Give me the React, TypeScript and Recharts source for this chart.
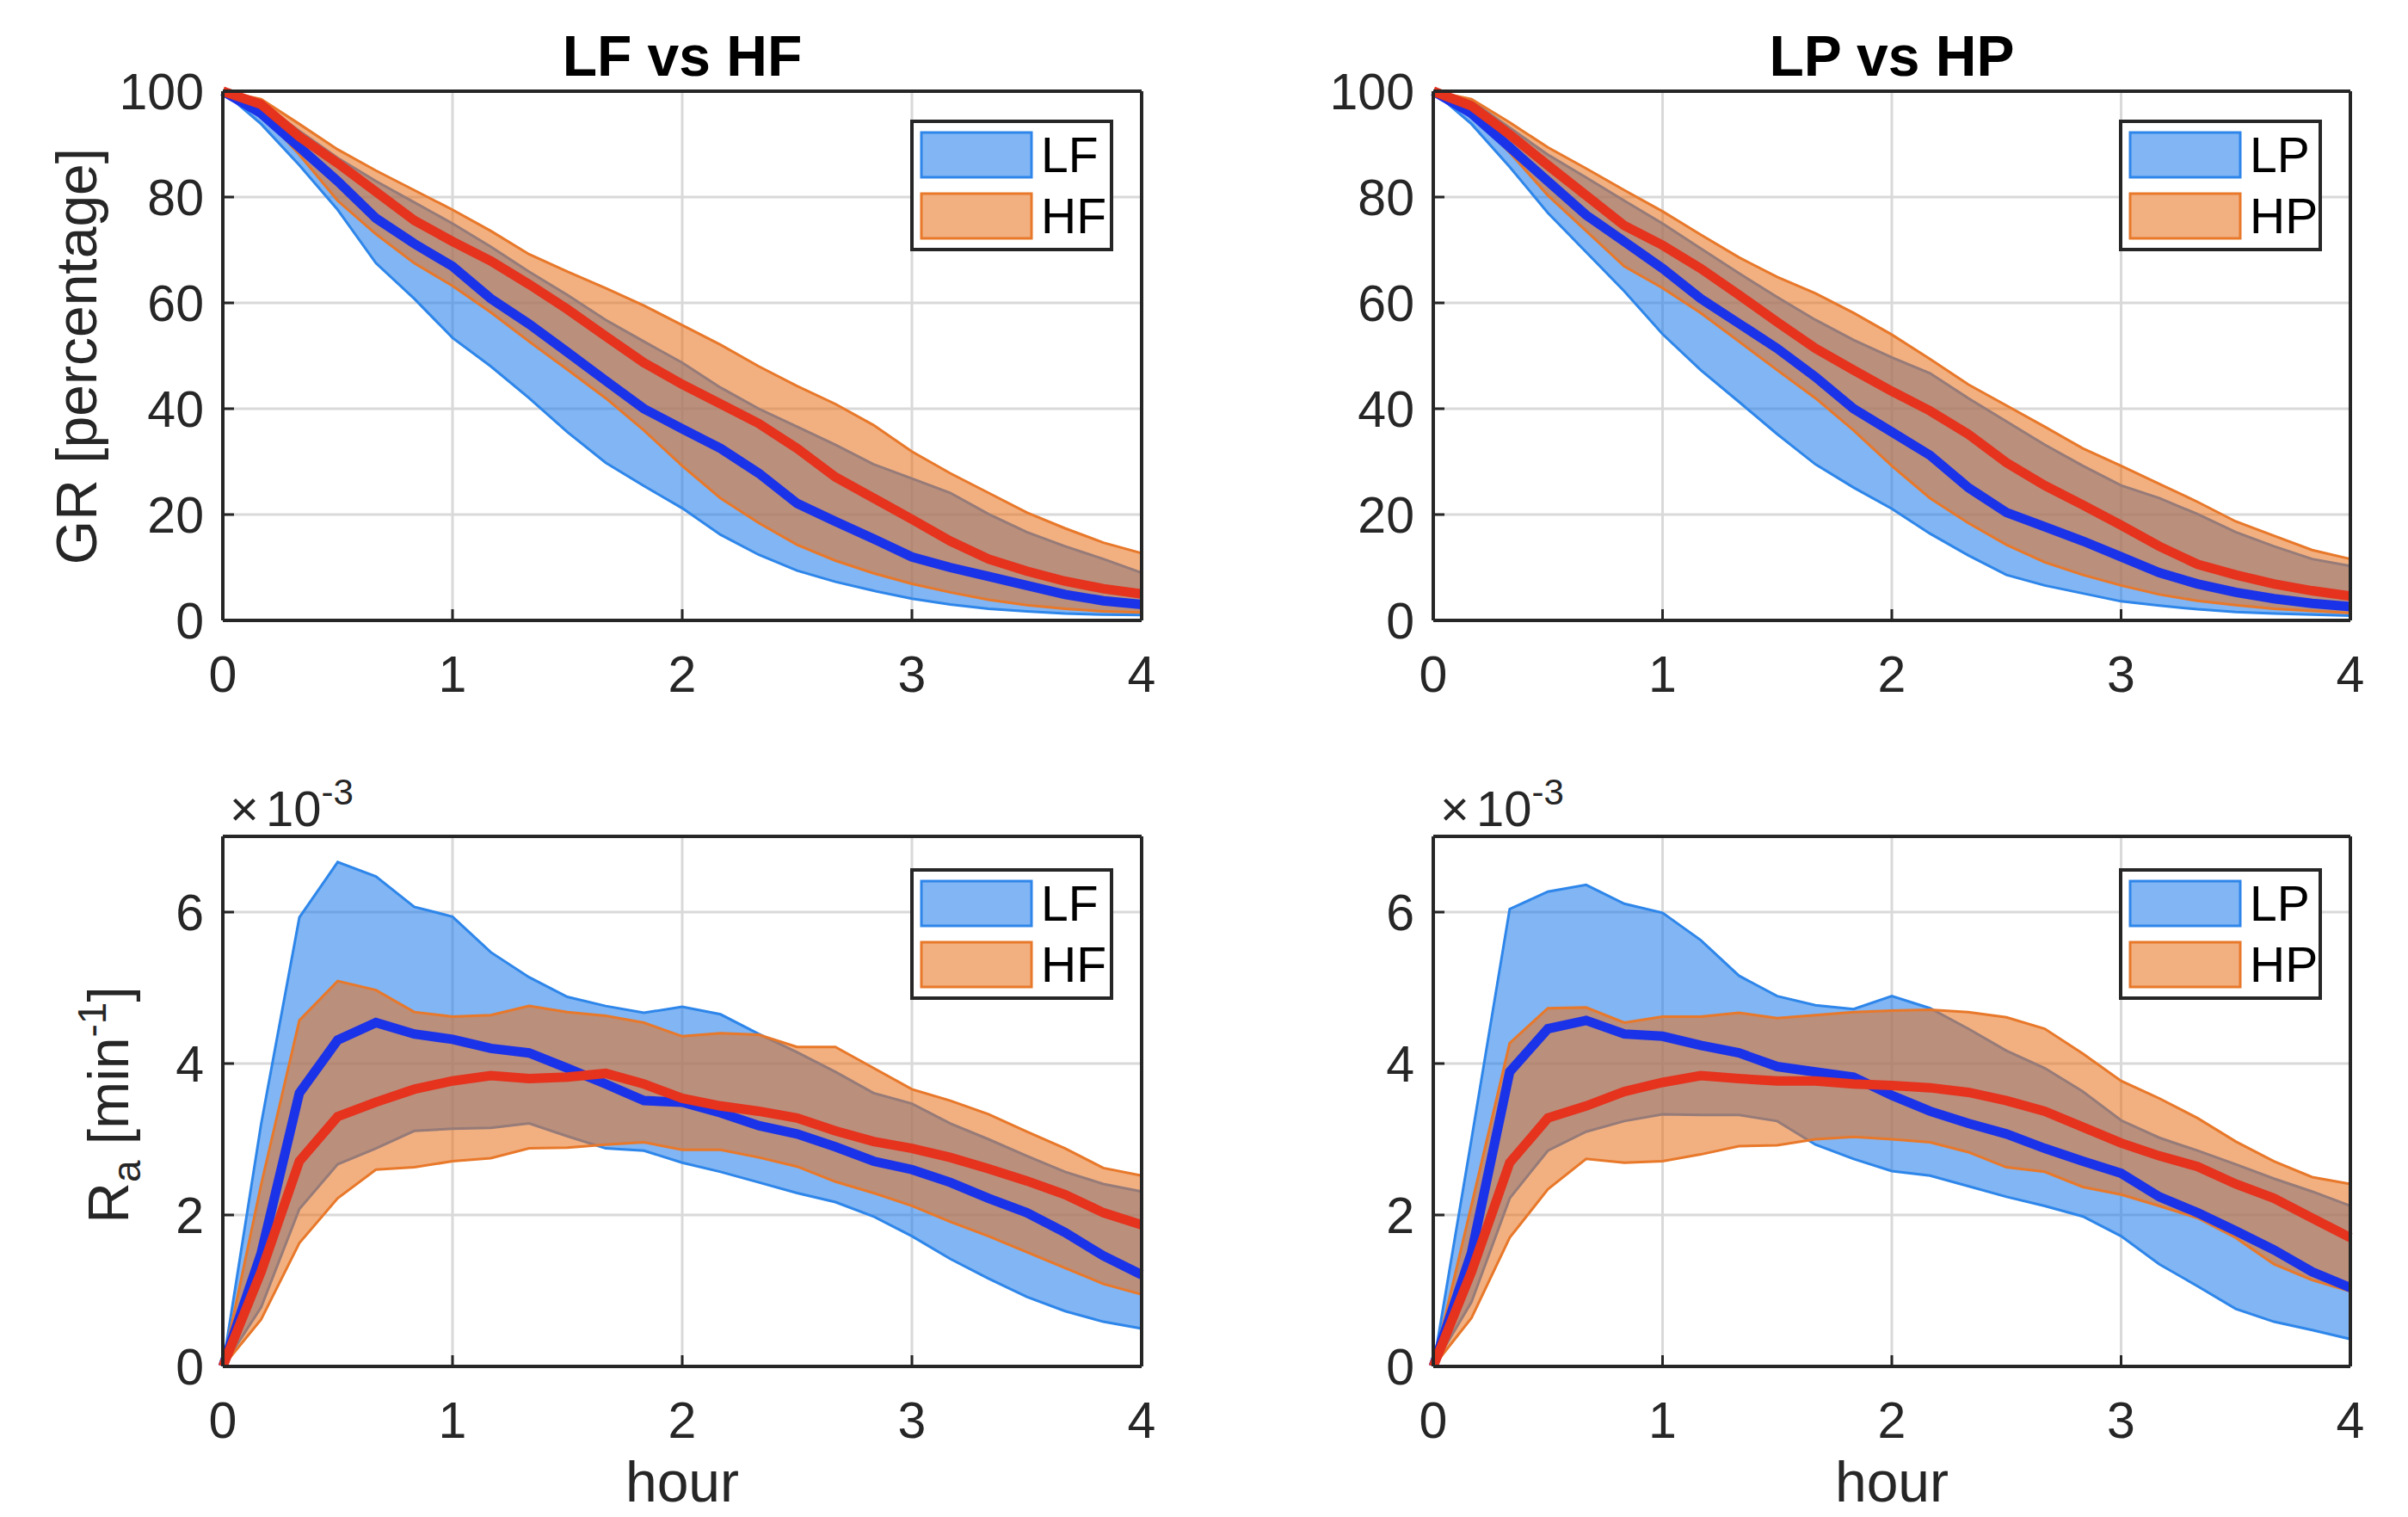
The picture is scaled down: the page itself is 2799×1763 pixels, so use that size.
import React from "react";
import { ComposedChart, Area, Line, XAxis, YAxis, CartesianGrid, Legend } from "recharts";

// hours, 10-minute steps
const HOURS = [0, 0.1667, 0.3333, 0.5, 0.6667, 0.8333, 1, 1.1667, 1.3333, 1.5, 1.6667, 1.8333, 2, 2.1667, 2.3333, 2.5, 2.6667, 2.8333, 3, 3.1667, 3.3333, 3.5, 3.6667, 3.8333, 4];
const X_TICKS = [0, 1, 2, 3, 4];
const GR_TICKS = [0, 20, 40, 60, 80, 100];
const RA_TICKS = [0, 2, 4, 6];

// GR [percentage], LF vs HF
const GR_LF_MEAN = [100, 95.8, 89.4, 83, 76, 71.2, 66.9, 60.8, 56, 50.7, 45.3, 40, 36.2, 32.5, 27.8, 22.1, 18.7, 15.4, 12, 10, 8.3, 6.6, 4.9, 3.7, 3];
const GR_LF_HI = [100, 97.8, 92.5, 87.4, 83, 79, 75, 70.6, 65.9, 61.5, 56.8, 52.7, 48.7, 44, 40, 36.6, 33.2, 29.5, 26.8, 24.1, 20.1, 16.7, 14, 11.6, 9];
const GR_LF_LO = [100, 93.8, 86, 77.6, 67.5, 60.8, 53.4, 48, 42, 35.6, 29.8, 25.4, 21.2, 16.2, 12.4, 9.4, 7.3, 5.6, 4.1, 3, 2.2, 1.7, 1.3, 1.1, 1];
const GR_HF_MEAN = [100, 97.5, 91.4, 86.4, 81, 75.6, 71.6, 67.9, 63.5, 58.8, 53.7, 48.7, 44.6, 40.9, 37.2, 32.5, 27.1, 23.1, 19.1, 15, 11.6, 9.3, 7.4, 6, 5];
const GR_HF_HI = [100, 98.5, 93.8, 89, 85, 81.3, 77.6, 73.6, 69.2, 65.9, 62.8, 59.5, 55.8, 52.1, 48, 44.3, 40.9, 36.9, 31.9, 27.8, 24.1, 20.4, 17.4, 14.7, 12.7];
const GR_HF_LO = [100, 95.8, 88, 79.3, 73, 67.5, 63.2, 58.2, 52.7, 47.4, 42, 35.9, 29.2, 23.1, 18.4, 14.3, 11.3, 8.9, 6.9, 5.3, 3.9, 2.9, 2.2, 1.7, 1.5];

// GR [percentage], LP vs HP
const GR_LP_MEAN = [100, 95.8, 89.4, 83, 76.6, 71.6, 66.5, 60.8, 56.1, 51.4, 46, 40, 35.6, 31.2, 25.1, 20.4, 17.7, 15, 12, 9, 6.9, 5.3, 4.1, 3.2, 2.6];
const GR_LP_HI = [100, 98.2, 93.1, 88, 83.7, 79.3, 75, 70.3, 65.6, 61.1, 56.8, 53, 49.7, 46.7, 42, 37.6, 33.2, 29.2, 25.5, 23.1, 20.1, 16.7, 14, 11.6, 10.3];
const GR_LP_LO = [100, 93.8, 85.7, 77, 69.6, 62.2, 54.1, 47.3, 41.3, 35.2, 29.5, 25.1, 21.1, 16.4, 12.3, 8.6, 6.6, 5.1, 3.6, 2.8, 2.1, 1.6, 1.3, 1.1, 0.9];
const GR_HP_MEAN = [100, 97.2, 91.8, 86, 80.3, 74.6, 70.9, 66.5, 61.5, 56.4, 51.4, 47.3, 43.3, 39.6, 35.2, 29.8, 25.5, 21.8, 18, 14, 10.6, 8.6, 6.9, 5.6, 4.6];
const GR_HP_HI = [100, 98.5, 94.1, 89.4, 85.4, 81.3, 77.3, 72.9, 68.6, 64.9, 61.8, 58.1, 54, 49.4, 44.6, 40.6, 36.6, 32.5, 29.2, 25.8, 22.4, 18.7, 16, 13.3, 11.6];
const GR_HP_LO = [100, 95.8, 88.4, 80.3, 73.6, 66.9, 62.8, 58.1, 52.7, 47.3, 42, 35.9, 29.2, 23.1, 18.4, 14.3, 11, 8.6, 6.6, 4.9, 3.7, 2.9, 2.2, 1.8, 1.4];

// Ra [min^-1] x 10^-3, LF vs HF
const RA_LF_MEAN = [0, 1.49, 3.61, 4.31, 4.54, 4.39, 4.32, 4.2, 4.14, 3.94, 3.73, 3.51, 3.49, 3.35, 3.18, 3.07, 2.9, 2.71, 2.6, 2.43, 2.22, 2.03, 1.77, 1.46, 1.21];
const RA_LF_HI = [0, 3.2, 5.93, 6.66, 6.47, 6.07, 5.94, 5.47, 5.14, 4.88, 4.76, 4.67, 4.75, 4.65, 4.39, 4.15, 3.89, 3.61, 3.47, 3.21, 3.0, 2.78, 2.57, 2.41, 2.31];
const RA_LF_LO = [0, 0.78, 2.08, 2.67, 2.88, 3.11, 3.14, 3.15, 3.21, 3.04, 2.88, 2.85, 2.69, 2.57, 2.43, 2.29, 2.17, 1.98, 1.72, 1.42, 1.16, 0.92, 0.73, 0.59, 0.5];
const RA_HF_MEAN = [0, 1.25, 2.71, 3.3, 3.49, 3.66, 3.77, 3.84, 3.8, 3.82, 3.87, 3.73, 3.54, 3.44, 3.37, 3.28, 3.11, 2.97, 2.88, 2.76, 2.61, 2.45, 2.27, 2.03, 1.87];
const RA_HF_HI = [0, 2.4, 4.57, 5.09, 4.97, 4.68, 4.62, 4.64, 4.76, 4.68, 4.63, 4.54, 4.36, 4.4, 4.38, 4.22, 4.22, 3.94, 3.66, 3.51, 3.33, 3.1, 2.88, 2.62, 2.52];
const RA_HF_LO = [0, 0.62, 1.63, 2.22, 2.6, 2.63, 2.71, 2.75, 2.88, 2.89, 2.93, 2.96, 2.86, 2.86, 2.76, 2.64, 2.44, 2.29, 2.12, 1.91, 1.72, 1.51, 1.3, 1.09, 0.95];

// Ra [min^-1] x 10^-3, LP vs HP
const RA_LP_MEAN = [0, 1.5, 3.89, 4.46, 4.57, 4.39, 4.36, 4.24, 4.14, 3.96, 3.89, 3.82, 3.58, 3.37, 3.21, 3.07, 2.88, 2.71, 2.55, 2.24, 2.03, 1.79, 1.54, 1.25, 1.04];
const RA_LP_HI = [0, 3.0, 6.04, 6.27, 6.36, 6.11, 5.99, 5.63, 5.16, 4.89, 4.77, 4.72, 4.89, 4.73, 4.46, 4.17, 3.94, 3.63, 3.25, 3.02, 2.85, 2.67, 2.48, 2.31, 2.12];
const RA_LP_LO = [0, 0.85, 2.22, 2.85, 3.1, 3.24, 3.33, 3.32, 3.32, 3.24, 2.93, 2.74, 2.58, 2.52, 2.38, 2.24, 2.12, 1.98, 1.72, 1.35, 1.06, 0.76, 0.59, 0.48, 0.36];
const RA_HP_MEAN = [0, 1.25, 2.69, 3.28, 3.44, 3.63, 3.75, 3.84, 3.8, 3.77, 3.77, 3.73, 3.71, 3.68, 3.62, 3.51, 3.37, 3.16, 2.95, 2.78, 2.64, 2.41, 2.22, 1.96, 1.7];
const RA_HP_HI = [0, 2.13, 4.27, 4.73, 4.74, 4.54, 4.62, 4.62, 4.67, 4.6, 4.64, 4.68, 4.7, 4.71, 4.68, 4.61, 4.46, 4.13, 3.77, 3.54, 3.28, 2.97, 2.71, 2.5, 2.41];
const RA_HP_LO = [0, 0.64, 1.7, 2.34, 2.74, 2.69, 2.71, 2.8, 2.91, 2.92, 3.0, 3.03, 3.0, 2.96, 2.83, 2.63, 2.57, 2.37, 2.27, 2.12, 1.96, 1.7, 1.35, 1.14, 0.99];

const FONT = '"Liberation Sans", Arial, Helvetica, sans-serif';
const INK = "#262626";
const GRID = "#d9d9d9";
const BLUE_FILL = "#1e7bea";
const BLUE_EDGE = "#2e86ea";
const ORANGE_FILL = "#e8731e";
const ORANGE_EDGE = "#e8782a";
const BLUE_LINE = "#1b33e8";
const RED_LINE = "#e5331d";

const PAD_L = 200;
const PAD_T = 60;
const PAD_R = 40;
const PAD_B = 110;
const Y_AXIS_W = 100;
const X_AXIS_H = 80;
const TICK_LEN = 13;

const makeRows = (aLo: number[], aHi: number[], aMean: number[], bLo: number[], bHi: number[], bMean: number[]) =>
  HOURS.map((t, i) => ({ t, aLo: aLo[i], aHi: aHi[i], aMean: aMean[i], bLo: bLo[i], bHi: bHi[i], bMean: bMean[i] }));

const BottomTick = (props: any) => {
  const { x, y, payload } = props;
  const axisY = y - 41;
  return (
    <g>
      <line x1={x} x2={x} y1={axisY} y2={axisY - TICK_LEN} stroke={INK} strokeWidth={3} />
      <text x={x} y={y + 42} textAnchor="middle" fontSize={59} fontFamily={FONT} fill={INK}>
        {payload.value}
      </text>
    </g>
  );
};

const LeftTick = (props: any) => {
  const { x, y, payload } = props;
  const axisX = x + 22;
  return (
    <g>
      <line x1={axisX} x2={axisX + TICK_LEN} y1={y} y2={y} stroke={INK} strokeWidth={3} />
      <text x={x} y={y + 21} textAnchor="end" fontSize={59} fontFamily={FONT} fill={INK}>
        {payload.value}
      </text>
    </g>
  );
};

const LegendBox = ({ names }: { names: string[] }) => (
  <svg width={236} height={153} style={{ display: "block" }}>
    <rect x={2} y={2} width={232} height={149} fill="#fff" stroke={INK} strokeWidth={4} />
    <rect x={13} y={15} width={128} height={52} fill={BLUE_FILL} fillOpacity={0.56} stroke={BLUE_EDGE} strokeWidth={3} />
    <rect x={13} y={86} width={128} height={52} fill={ORANGE_FILL} fillOpacity={0.56} stroke={ORANGE_EDGE} strokeWidth={3} />
    <text x={152} y={61} fontSize={57} fontFamily={FONT} fill="#000">{names[0]}</text>
    <text x={152} y={132} fontSize={57} fontFamily={FONT} fill="#000">{names[1]}</text>
  </svg>
);

type Frame = { x0: number; y0: number; x1: number; y1: number };

function Panel({ frame, rows, domain, yTicks, names, legendGap }: { frame: Frame; rows: any[]; domain: number[]; yTicks: number[]; names: string[]; legendGap: number }) {
  const w = frame.x1 - frame.x0 + PAD_L + PAD_R;
  const h = frame.y1 - frame.y0 + PAD_T + PAD_B;
  const frameLine = { stroke: INK, strokeWidth: 4 };
  return (
    <div style={{ position: "absolute", left: frame.x0 - PAD_L, top: frame.y0 - PAD_T }}>
      <ComposedChart
        width={w}
        height={h}
        data={rows}
        margin={{ top: PAD_T, left: PAD_L - Y_AXIS_W, right: PAD_R, bottom: PAD_B - X_AXIS_H }}
      >
        <CartesianGrid stroke={GRID} strokeWidth={3} />
        <Area dataKey={(d: any) => [d.aLo, d.aHi]} type="linear" fill={BLUE_FILL} fillOpacity={0.56} stroke={BLUE_EDGE} strokeWidth={3} activeDot={false} isAnimationActive={false} />
        <Area dataKey={(d: any) => [d.bLo, d.bHi]} type="linear" fill={ORANGE_FILL} fillOpacity={0.56} stroke={ORANGE_EDGE} strokeWidth={3} activeDot={false} isAnimationActive={false} />
        <Line dataKey="aMean" type="linear" stroke={BLUE_LINE} strokeWidth={11} dot={false} activeDot={false} isAnimationActive={false} />
        <Line dataKey="bMean" type="linear" stroke={RED_LINE} strokeWidth={11} dot={false} activeDot={false} isAnimationActive={false} />
        <XAxis
          dataKey="t"
          type="number"
          domain={[0, 4]}
          ticks={X_TICKS}
          interval={0}
          height={X_AXIS_H}
          tickSize={0}
          tickMargin={41}
          tickLine={false}
          axisLine={frameLine}
          tick={(p: any) => <BottomTick {...p} />}
        />
        <YAxis
          type="number"
          domain={domain}
          ticks={yTicks}
          interval={0}
          width={Y_AXIS_W}
          tickSize={0}
          tickMargin={22}
          tickLine={false}
          axisLine={frameLine}
          tick={(p: any) => <LeftTick {...p} />}
        />
        <XAxis xAxisId="top" orientation="top" mirror type="number" domain={[0, 4]} ticks={X_TICKS} interval={0} tick={false} tickSize={TICK_LEN} tickLine={{ stroke: INK, strokeWidth: 3 }} axisLine={frameLine} />
        <YAxis yAxisId="right" orientation="right" mirror type="number" domain={domain} ticks={yTicks} interval={0} tick={false} tickSize={TICK_LEN} tickLine={{ stroke: INK, strokeWidth: 3 }} axisLine={frameLine} />
        <Legend
          layout="vertical"
          align="center"
          verticalAlign="middle"
          content={() => <LegendBox names={names} />}
          wrapperStyle={{ left: PAD_L + (frame.x1 - frame.x0) - 33 - 236, top: PAD_T + legendGap, width: 236, height: 153 }}
        />
      </ComposedChart>
    </div>
  );
}

const TL: Frame = { x0: 259, y0: 106, x1: 1327, y1: 721 };
const TR: Frame = { x0: 1666, y0: 106, x1: 2732, y1: 721 };
const BL: Frame = { x0: 259, y0: 972, x1: 1327, y1: 1588 };
const BR: Frame = { x0: 1666, y0: 972, x1: 2732, y1: 1588 };

export default function App() {
  const grF = makeRows(GR_LF_LO, GR_LF_HI, GR_LF_MEAN, GR_HF_LO, GR_HF_HI, GR_HF_MEAN);
  const grP = makeRows(GR_LP_LO, GR_LP_HI, GR_LP_MEAN, GR_HP_LO, GR_HP_HI, GR_HP_MEAN);
  const raF = makeRows(RA_LF_LO, RA_LF_HI, RA_LF_MEAN, RA_HF_LO, RA_HF_HI, RA_HF_MEAN);
  const raP = makeRows(RA_LP_LO, RA_LP_HI, RA_LP_MEAN, RA_HP_LO, RA_HP_HI, RA_HP_MEAN);
  const colL = (TL.x0 + TL.x1) / 2;
  const colR = (TR.x0 + TR.x1) / 2;
  return (
    <div style={{ position: "absolute", left: 0, top: 0, width: 2799, height: 1763, background: "#fff", overflow: "hidden" }}>
      <Panel frame={TL} rows={grF} domain={[0, 100]} yTicks={GR_TICKS} names={["LF", "HF"]} legendGap={33} />
      <Panel frame={TR} rows={grP} domain={[0, 100]} yTicks={GR_TICKS} names={["LP", "HP"]} legendGap={33} />
      <Panel frame={BL} rows={raF} domain={[0, 7]} yTicks={RA_TICKS} names={["LF", "HF"]} legendGap={37} />
      <Panel frame={BR} rows={raP} domain={[0, 7]} yTicks={RA_TICKS} names={["LP", "HP"]} legendGap={37} />
      <svg width={2799} height={1763} style={{ position: "absolute", left: 0, top: 0, pointerEvents: "none" }} fontFamily={FONT}>
        <text x={colL} y={88} textAnchor="middle" fontSize={66} fontWeight="bold" fill="#000">LF vs HF</text>
        <text x={colR} y={88} textAnchor="middle" fontSize={66} fontWeight="bold" fill="#000">LP vs HP</text>
        <text transform="translate(112,414) rotate(-90)" textAnchor="middle" fontSize={66} fill={INK}>GR [percentage]</text>
        <text transform="translate(149,1284) rotate(-90)" textAnchor="middle" fontSize={66} fill={INK}>
          R<tspan fontSize={46} dy={14}>a</tspan>
          <tspan dy={-14}> [min</tspan>
          <tspan fontSize={46} dy={-26}>-1</tspan>
          <tspan dy={26}>]</tspan>
        </text>
        <text x={267} y={960} fontSize={58} fill={INK}>
          ×<tspan dx={8}>10</tspan>
          <tspan fontSize={42} dy={-25}>-3</tspan>
        </text>
        <text x={BR.x0 + 8} y={960} fontSize={58} fill={INK}>
          ×<tspan dx={8}>10</tspan>
          <tspan fontSize={42} dy={-25}>-3</tspan>
        </text>
        <text x={colL} y={1745} textAnchor="middle" fontSize={66} fill={INK}>hour</text>
        <text x={colR} y={1745} textAnchor="middle" fontSize={66} fill={INK}>hour</text>
      </svg>
    </div>
  );
}
